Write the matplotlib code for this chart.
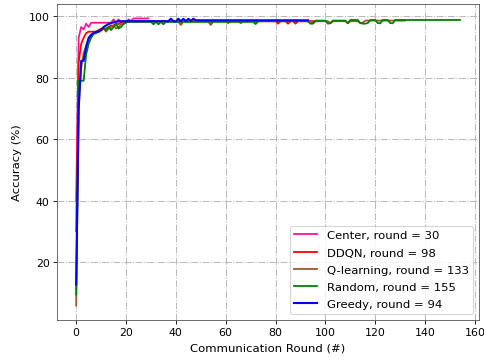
import matplotlib
matplotlib.use("Agg")
import matplotlib.pyplot as plt
import numpy as np

# accuracy (%) per communication round
center = [40, 93, 96.5, 95.7, 97.6, 96.5, 97.9, 97.9, 97.9, 97.9,
          97.9, 97.9, 97.9, 97.9, 97.9, 99, 97.9, 99, 97.9, 98.3,
          97.9, 99, 98.5, 99.3, 99.3, 99.3, 99.3, 99.3, 99.3, 99.3]

ddqn = [30, 85, 91, 93, 94.5, 95, 95, 95, 95, 95.5,
        96, 96, 96, 96.5, 97, 97, 97.5, 97.5, 98, 98.2,
        98.4, 98.4, 98.4, 98.4, 98.4, 98.4, 98.4, 98.4, 98.4, 98.4,
        98.4, 98.4, 98.4, 98.4, 98.4, 98.4, 98.4, 98.4, 98.4, 98.4,
        98.4, 98.4, 97.3, 98.4, 98.4, 98.4, 98.4, 98.4, 98.4, 98.4,
        98.4, 98.4, 98.4, 98.4, 97.4, 98.4, 98.4, 98.4, 98.4, 98.4,
        98.4, 97.8, 98.4, 98.4, 98.4, 98.4, 97.8, 98.4, 98.4, 98.4,
        98.4, 98.4, 98.4, 98.4, 98.4, 98.4, 98.4, 98.4, 98.4, 98.4,
        98.4, 97.6, 98.4, 98.4, 98.4, 97.6, 98.4, 98.4, 97.6, 98.4,
        98.4, 98.4, 98.4, 98.4, 98.4, 98.4, 98.4, 98.4]

qlearn = [5.8, 70, 83, 88, 90.5, 92.5, 93.5, 94.5, 95, 95,
          95.5, 96, 95, 96, 96.5, 97, 96, 96.5, 97.5, 97.5,
          98, 98.3, 98.3, 98.3, 98.3, 98.3, 98.3, 98.3, 98.3, 98.3,
          98.3, 98.3, 98.3, 98.3, 98.3, 98.3, 98.3, 98.3, 98.3, 98.3,
          98.3, 98.3, 97.2, 98.3, 98.3, 98.3, 98.3, 98.3, 98.3, 98.3,
          98.3, 98.3, 98.3, 98.3, 97.2, 98.3, 98.3, 98.3, 98.3, 98.3,
          98.3, 98.3, 98.3, 98.3, 98.3, 98.3, 98.3, 98.3, 98.3, 98.3,
          98.3, 98.3, 97.6, 98.4, 98.4, 98.4, 98.4, 98.4, 98.4, 98.4,
          98.4, 98.4, 98.4, 98.4, 98.4, 98.4, 98.4, 98.4, 98.4, 98.4,
          98.4, 98.4, 98.4, 98.4, 98.4, 97.7, 98.4, 98.4, 98.4, 98.4,
          98.4, 98.4, 97.7, 98.4, 98.4, 98.4, 98.4, 98.4, 98.4, 97.8,
          98.4, 98.4, 98.4, 98.4, 97.8, 97.9, 98.6, 98.6, 98.6, 98.6,
          98.6, 98.6, 98.6, 98.6, 98.6, 98.6, 98.6, 98.6, 98.6, 98.6,
          98.6, 98.6, 98.6]

rand = [9.4, 79, 79, 79, 87.6, 91, 93, 94.3, 94.5, 95,
        95.5, 96, 95.5, 96.5, 95.5, 96.5, 97.5, 96, 96.5, 97.5,
        98, 98.2, 98.2, 98.2, 98.2, 98.2, 98.2, 98.2, 98.2, 98.2,
        98.2, 97.4, 98.2, 97.4, 98.2, 97.4, 98.2, 98.2, 98.2, 98.2,
        98.2, 98.2, 98.2, 98.2, 98.2, 98.2, 98.2, 98.2, 98.2, 98.2,
        98.2, 98.2, 98.2, 98.2, 98.2, 98.2, 98.2, 98.2, 98.2, 98.2,
        98.2, 98.2, 98.2, 98.2, 98.2, 98.2, 98.2, 98.2, 98.2, 98.2,
        98.2, 98.2, 97.5, 98.4, 98.4, 98.4, 98.4, 98.4, 98.4, 98.4,
        98.4, 98.4, 98.4, 98.4, 98.4, 98.4, 98.4, 98.4, 98.4, 98.4,
        98.4, 98.4, 98.4, 98.4, 97.6, 97.6, 98.6, 98.6, 98.6, 98.6,
        98.6, 97.6, 97.8, 98.6, 98.6, 98.6, 98.6, 98.6, 98.6, 97.7,
        98.8, 98.8, 98.8, 98.8, 97.8, 97.6, 97.6, 97.8, 98.8, 98.8,
        98.8, 97.8, 97.7, 98.8, 98.8, 98.8, 97.8, 97.7, 98.8, 98.8,
        98.8, 98.8, 98.8, 98.8, 98.8, 98.8, 98.8, 98.8, 98.8, 98.8,
        98.8, 98.8, 98.8, 98.8, 98.8, 98.8, 98.8, 98.8, 98.8, 98.8,
        98.8, 98.8, 98.8, 98.8, 98.8]

greedy = [12.6, 70, 85.5, 85.5, 90, 93, 94, 94.5, 95, 95,
          95.5, 96.5, 97, 97.5, 97.8, 98, 98.2, 98.4, 98.4, 98.4,
          98.4, 98.4, 98.4, 98.4, 98.4, 98.4, 98.4, 98.4, 98.4, 98.4,
          98.4, 98.4, 98.4, 98.4, 98.4, 98.4, 98.4, 98.4, 99.2, 98.4,
          98.3, 99.2, 98.4, 99.2, 98.4, 99.2, 98.5, 99.2, 98.7, 98.7,
          98.7, 98.7, 98.7, 98.7, 98.7, 98.7, 98.7, 98.7, 98.7, 98.7,
          98.7, 98.7, 98.7, 98.7, 98.7, 98.7, 98.7, 98.7, 98.7, 98.7,
          98.7, 98.7, 98.7, 98.7, 98.7, 98.7, 98.7, 98.7, 98.7, 98.7,
          98.7, 98.7, 98.7, 98.7, 98.7, 98.7, 98.7, 98.7, 98.7, 98.7,
          98.7, 98.7, 98.7, 98.7]

series = [
    (center, "#ff1493", 1.7, "Center, round = 30"),
    (ddqn, "red", 1.7, "DDQN, round = 98"),
    (qlearn, "#a0522d", 1.7, "Q-learning, round = 133"),
    (rand, "green", 1.7, "Random, round = 155"),
    (greedy, "blue", 2.0, "Greedy, round = 94"),
]

fig, ax = plt.subplots(figsize=(6.4, 4.79), dpi=75.78)
fig.subplots_adjust(left=0.1175, right=0.988, bottom=0.116, top=0.986)

for vals, col, lw, lab in series:
    ax.plot(np.arange(len(vals)), vals, color=col, lw=lw, label=lab)

ax.grid(True, linestyle="-.", color="#bbbbbb", linewidth=1)
for s in ax.spines.values():
    s.set_color("#555555")
ax.set_xticks(np.arange(0, 161, 20))
ax.tick_params(labelsize=10.5)
ax.set_xlabel("Communication Round (#)", fontsize=11, labelpad=5)
ax.set_ylabel("Accuracy (%)", fontsize=11, labelpad=6)
ax.legend(loc="lower right", fontsize=11, labelspacing=0.62)

plt.savefig("out.png", dpi=75.78)
